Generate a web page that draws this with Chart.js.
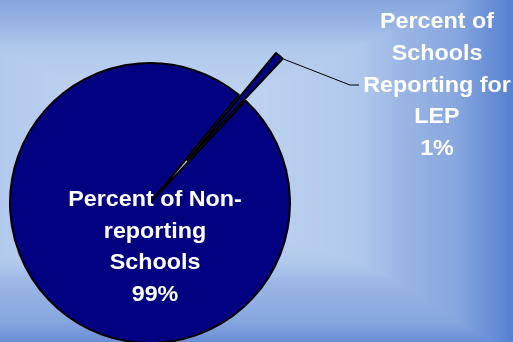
<!DOCTYPE html>
<html>
<head>
<meta charset="utf-8">
<script src="https://cdn.jsdelivr.net/npm/chart.js@4.4.1/dist/chart.umd.min.js"></script>
<style>
  html, body { margin: 0; padding: 0; }
  #wrap { width: 513px; height: 342px; position: relative; }
</style>
</head>
<body>
<div id="wrap"><canvas id="pieChart"></canvas></div>
<script>
// Share of schools, in percent
const categories = ['Percent of Schools Reporting for LEP', 'Percent of Non-reporting Schools'];
const values = [1, 99];
const labelLines = [
    ['Percent of', 'Schools', 'Reporting for', 'LEP', '1%'],
    ['Percent of Non-', 'reporting', 'Schools', '99%']
];
// how far each slice is pulled out of the pie, px
const explode = [56, 0];

// Background: light in the middle, darker blue toward the edges
function lerp(a, b, t) { return a + (b - a) * t; }
function piecewise(stops, v) {
    if (v <= stops[0][0]) return stops[0][1];
    for (let i = 1; i < stops.length; i++) {
        if (v <= stops[i][0]) {
            const t = (v - stops[i - 1][0]) / (stops[i][0] - stops[i - 1][0]);
            return lerp(stops[i - 1][1], stops[i][1], t);
        }
    }
    return stops[stops.length - 1][1];
}
const fxStops = [[0, 0.42], [90, 0.18], [250, 0.18], [350, 0.42], [440, 0.74], [513, 1.0]];
const fyStops = [[0, 0.8], [60, 0.35], [110, 0.12], [220, 0.12], [280, 0.58], [342, 0.92]];
const ramp = [
    [0.0, [198, 217, 241]],
    [0.45, [176, 200, 236]],
    [0.6, [154, 182, 228]],
    [0.8, [135, 166, 222]],
    [0.9, [110, 146, 216]],
    [1.0, [85, 128, 208]]
];
function rampColor(t) {
    for (let i = 1; i < ramp.length; i++) {
        if (t <= ramp[i][0]) {
            const k = (t - ramp[i - 1][0]) / (ramp[i][0] - ramp[i - 1][0]);
            return ramp[i - 1][1].map((c, j) => lerp(c, ramp[i][1][j], k));
        }
    }
    return ramp[ramp.length - 1][1];
}
const bg = document.createElement('canvas');
bg.width = 513; bg.height = 342;
(function paintBackground() {
    const bctx = bg.getContext('2d');
    const img = bctx.createImageData(bg.width, bg.height);
    for (let y = 0; y < bg.height; y++) {
        const fy = piecewise(fyStops, y);
        for (let x = 0; x < bg.width; x++) {
            const t = Math.max(piecewise(fxStops, x), fy);
            const c = rampColor(t);
            const i = (y * bg.width + x) * 4;
            img.data[i] = c[0]; img.data[i + 1] = c[1]; img.data[i + 2] = c[2]; img.data[i + 3] = 255;
        }
    }
    bctx.putImageData(img, 0, 0);
})();

const backgroundPlugin = {
    id: 'slideBackground',
    beforeDraw(chart) {
        chart.ctx.drawImage(bg, 0, 0, chart.width, chart.height);
    }
};

// Pull slices outward along their middle angle without shrinking them
const explodePlugin = {
    id: 'explodeSlices',
    afterUpdate(chart) {
        const meta = chart.getDatasetMeta(0);
        meta.data.forEach((arc, i) => {
            const dist = explode[i] || 0;
            if (!dist || arc._exploded) return;
            const baseDraw = arc.draw;
            arc.draw = function (ctx) {
                const mid = (this.startAngle + this.endAngle) / 2;
                ctx.save();
                ctx.translate(Math.cos(mid) * dist, Math.sin(mid) * dist);
                baseDraw.call(this, ctx);
                ctx.restore();
            };
            arc._exploded = true;
        });
    }
};

function drawLines(ctx, lines, cx, cy, lineHeight) {
    ctx.save();
    ctx.fillStyle = '#ffffff';
    ctx.font = 'bold 22px "Liberation Sans", Arial, sans-serif';
    ctx.textAlign = 'center';
    ctx.textBaseline = 'middle';
    const top = cy - (lines.length - 1) * lineHeight / 2;
    lines.forEach((line, i) => {
        ctx.save();
        ctx.translate(cx, top + i * lineHeight);
        ctx.scale(1.06, 1);
        ctx.fillText(line, 0, 0);
        ctx.restore();
    });
    ctx.restore();
}

const labelPlugin = {
    id: 'sliceLabels',
    afterDatasetsDraw(chart) {
        const ctx = chart.ctx;
        const meta = chart.getDatasetMeta(0);
        const small = meta.data[0];
        const big = meta.data[1];

        // leader from the outer corner of the pulled-out slice
        const mid = (small.startAngle + small.endAngle) / 2;
        const sx = small.x + Math.cos(mid) * explode[0] + Math.cos(small.endAngle) * small.outerRadius;
        const sy = small.y + Math.sin(mid) * explode[0] + Math.sin(small.endAngle) * small.outerRadius;

        ctx.save();
        ctx.strokeStyle = '#000000';
        ctx.lineWidth = 1;
        ctx.beginPath();
        ctx.moveTo(sx, sy);
        ctx.lineTo(350, 85);
        ctx.lineTo(359, 85);
        ctx.stroke();
        ctx.restore();

        drawLines(ctx, labelLines[0], 437, 85.5, 31.7);
        drawLines(ctx, labelLines[1], big.x + 5, big.y + 44.5, 31.8);
    }
};

const ctx = document.getElementById('pieChart').getContext('2d');
const pieChart = new Chart(ctx, {
    type: 'pie',
    data: {
        labels: categories,
        datasets: [{
            data: values,
            backgroundColor: '#000080',
            borderColor: '#000000',
            borderWidth: 2
        }]
    },
    options: {
        responsive: true,
        maintainAspectRatio: false,
        animation: false,
        rotation: 39.5,
        radius: 140,
        layout: {
            padding: { left: 0, right: 213, top: 64, bottom: 0 }
        },
        plugins: {
            legend: { display: false },
            tooltip: { enabled: false }
        }
    },
    plugins: [backgroundPlugin, explodePlugin, labelPlugin]
});
</script>
</body>
</html>
